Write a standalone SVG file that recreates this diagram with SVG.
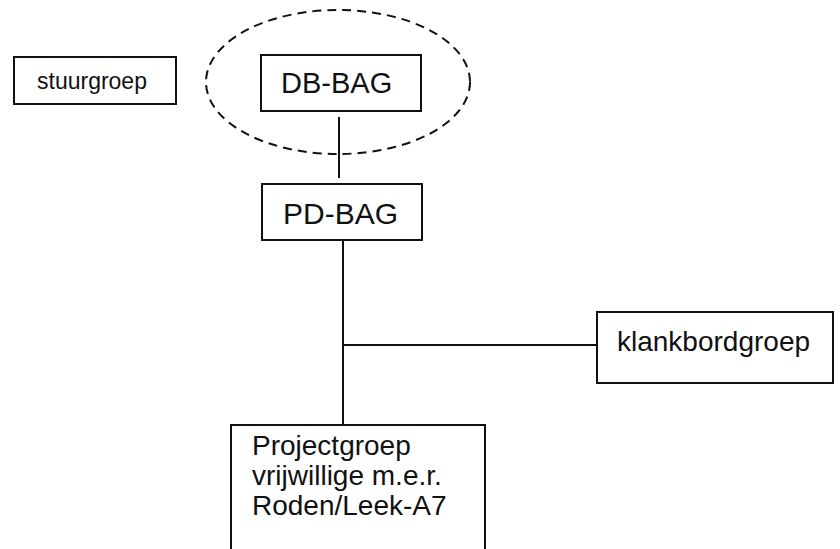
<svg xmlns="http://www.w3.org/2000/svg" width="840" height="549" viewBox="0 0 840 549">
<style>
.box{fill:#fff;stroke:#111;stroke-width:2}
.t{font-family:"Liberation Sans",Arial,sans-serif;fill:#111}
.c{stroke:#111;stroke-width:2;fill:none}
</style>
<rect width="840" height="549" fill="#fff"/>
<g id="connectors">
<line class="c" x1="339" y1="117" x2="339" y2="178"/>
<line class="c" x1="343" y1="241" x2="343" y2="425"/>
<line class="c" x1="343" y1="345" x2="597" y2="345"/>
</g>
<g id="group-ellipse">
<ellipse cx="338" cy="82" rx="132" ry="72" fill="none" stroke="#111" stroke-width="2" stroke-dasharray="9,6"/>
</g>
<g id="stuurgroep">
<rect class="box" x="14" y="57" width="162" height="47"/>
<text class="t" x="37" y="89" font-size="23">stuurgroep</text>
</g>
<g id="db-bag">
<rect class="box" x="261" y="55" width="160" height="56"/>
<text class="t" x="281" y="93" font-size="29">DB-BAG</text>
</g>
<g id="pd-bag">
<rect class="box" x="262" y="184" width="160" height="56"/>
<text class="t" x="283" y="224" font-size="30">PD-BAG</text>
</g>
<g id="klankbordgroep">
<rect class="box" x="597" y="312" width="236" height="71"/>
<text class="t" x="617" y="351" font-size="28">klankbordgroep</text>
</g>
<g id="projectgroep">
<path class="box" d="M231 552 V425 H485 V552"/>
<text class="t" x="252" font-size="28"><tspan x="252" y="455">Projectgroep</tspan><tspan x="252" y="485">vrijwillige m.e.r.</tspan><tspan x="252" y="515">Roden/Leek-A7</tspan></text>
</g>
</svg>
